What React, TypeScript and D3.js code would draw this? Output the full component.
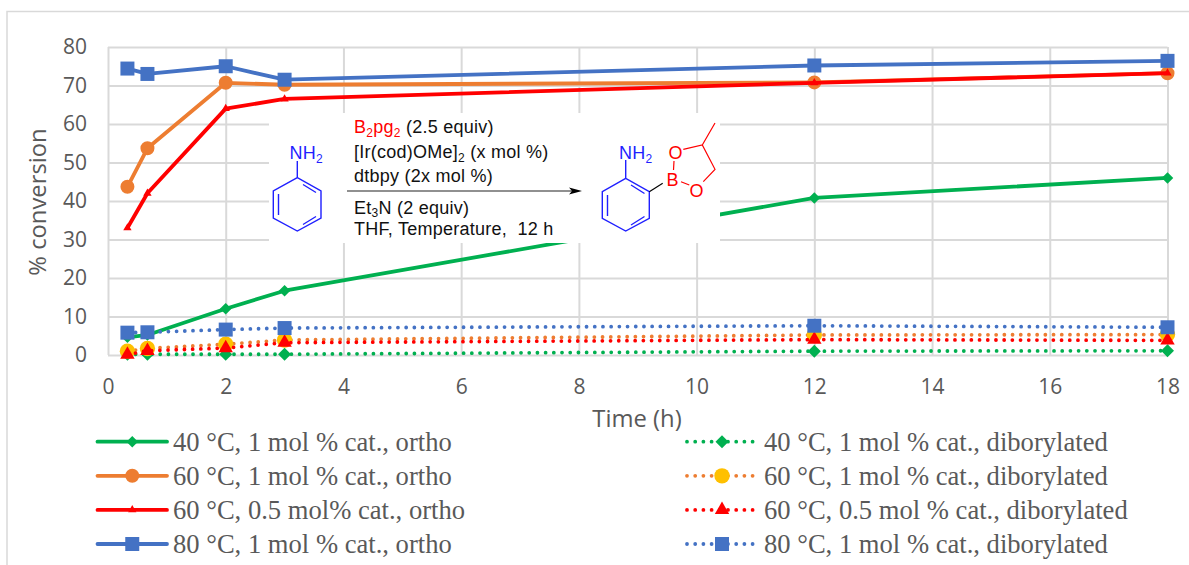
// App.tsx
import React, { useEffect, useRef } from 'react';
import * as d3 from 'd3';

const times = [0.33, 0.67, 2, 3, 12, 18];
const xTicks = [0, 2, 4, 6, 8, 10, 12, 14, 16, 18];
const yTicks = [0, 10, 20, 30, 40, 50, 60, 70, 80];

const ortho40 = [4.6, 5.2, 12, 16.7, 40.8, 46];
const ortho60 = [43.7, 53.7, 70.7, 70.2, 70.8, 73.2];
const ortho60half = [33, 42, 64, 66.5, 70.7, 73.2];
const ortho80 = [74.4, 73, 75, 71.5, 75.2, 76.4];
const dib40 = [0.2, 0.2, 0.2, 0.2, 1, 1.1];
const dib60 = [1, 1.7, 2.8, 3.9, 5.2, 5.3];
const dib60half = [0.1, 1.1, 1.8, 3.2, 4, 3.8];
const dib80 = [5.8, 5.9, 6.6, 7, 7.6, 7.2];

const GREEN = '#00B050';
const ORANGE = '#ED7D31';
const RED = '#FF0000';
const BLUE = '#4472C4';
const GOLD = '#FFC000';

const series = [
  { name: '40 °C, 1 mol % cat., ortho', values: ortho40, line: GREEN, fill: GREEN, symbol: d3.symbolDiamond2, size: 85, dotted: false },
  { name: '60 °C, 1 mol % cat., ortho', values: ortho60, line: ORANGE, fill: ORANGE, symbol: d3.symbolCircle, size: 154, dotted: false },
  { name: '60 °C, 0.5 mol% cat., ortho', values: ortho60half, line: RED, fill: RED, symbol: d3.symbolTriangle, size: 30, dotted: false },
  { name: '80 °C, 1 mol % cat., ortho', values: ortho80, line: BLUE, fill: BLUE, symbol: d3.symbolSquare, size: 196, dotted: false },
  { name: '40 °C, 1 mol % cat., diborylated', values: dib40, line: GREEN, fill: GREEN, symbol: d3.symbolDiamond2, size: 108, dotted: true },
  { name: '60 °C, 1 mol % cat., diborylated', values: dib60, line: ORANGE, fill: GOLD, symbol: d3.symbolCircle, size: 185, dotted: true },
  { name: '60 °C, 0.5 mol % cat., diborylated', values: dib60half, line: RED, fill: RED, symbol: d3.symbolTriangle, size: 90, dotted: true },
  { name: '80 °C, 1 mol % cat., diborylated', values: dib80, line: BLUE, fill: BLUE, symbol: d3.symbolSquare, size: 196, dotted: true },
];

const AXIS_COLOR = '#595959';
const GRID_COLOR = '#D9D9D9';
const AXIS_FONT = '"Open Sans", sans-serif';
const LEGEND_FONT = '"Liberation Serif", serif';
const SCHEME_FONT = '"Liberation Sans", Arial, sans-serif';

// reaction scheme, drawn in page pixels on top of the chart
const CHEM_BLUE = '#1F1FFF';
const anilineBonds = [
  'M297.3 161V177.7L321 191V218L297.3 231L273.3 218V191L297.3 177.7',
  'M303 184.5L316 192.5M278.5 194V215M303 224.5L316 216.5',
];
const productBonds = [
  'M625.7 160V178.3L649.3 191.7V218.3L625.7 231L602.3 218.3V191.7L625.7 178.3',
  'M631 185L644.5 193.5M607.5 195V216M631 225L644.5 216.5',
];
const boronateBonds = 'M674 161L673.5 170M681 181.7L689.3 185M683.3 149.3L702.3 145L715 169.3L703.3 181.7M702.3 145L715 123';

const App = () => {
  const svgRef = useRef<SVGSVGElement>(null);

  useEffect(() => {
    const svg = d3.select(svgRef.current);
    svg.selectAll('*').remove();

    const x = d3.scaleLinear().domain([0, 18]).range([108, 1167.5]);
    const y = d3.scaleLinear().domain([0, 80]).range([355, 47]);

    // chart frame runs off the right and bottom of the picture
    svg.append('rect')
      .attr('x', 7).attr('y', 11.5)
      .attr('width', 1200).attr('height', 600)
      .attr('fill', 'white')
      .attr('stroke', GRID_COLOR).attr('stroke-width', 1.5);

    const styleAxis = (g: any) => {
      g.select('.domain').remove();
      g.selectAll('.tick line').attr('stroke', GRID_COLOR).attr('stroke-width', 2);
      g.selectAll('.tick text')
        .attr('fill', AXIS_COLOR)
        .style('font-family', AXIS_FONT)
        .style('font-size', '21px');
    };

    svg.append('g')
      .attr('transform', 'translate(0,355)')
      .call(d3.axisBottom(x).tickValues(xTicks).tickSize(-308).tickPadding(24).tickFormat(d3.format('d')))
      .call(styleAxis);

    svg.append('g')
      .attr('transform', 'translate(108,0)')
      .call(d3.axisLeft(y).tickValues(yTicks).tickSize(-1059.5).tickPadding(21).tickFormat(d3.format('d')))
      .call(styleAxis);

    svg.append('text')
      .attr('transform', 'translate(46,202) rotate(-90)')
      .attr('text-anchor', 'middle')
      .attr('fill', AXIS_COLOR)
      .style('font-family', AXIS_FONT)
      .style('font-size', '23.8px')
      .text('% conversion');

    svg.append('text')
      .attr('x', 637).attr('y', 427)
      .attr('text-anchor', 'middle')
      .attr('fill', AXIS_COLOR)
      .style('font-family', AXIS_FONT)
      .style('font-size', '23.8px')
      .text('Time (h)');

    const line = d3.line<number>().x((_, i) => x(times[i])).y(d => y(d));

    const styleLine = (sel: any, s: any) => sel
      .attr('fill', 'none')
      .attr('stroke', s.line)
      .attr('stroke-width', 3.8)
      .attr('stroke-linecap', 'round')
      .attr('stroke-linejoin', 'round')
      .attr('stroke-dasharray', s.dotted ? '0 8.2' : null);

    series.forEach(s => {
      svg.append('path').attr('d', line(s.values)).call(styleLine, s);
      svg.selectAll(null)
        .data(s.values)
        .enter()
        .append('path')
        .attr('d', d3.symbol().type(s.symbol).size(s.size))
        .attr('transform', (d, i) => `translate(${x(times[i])},${y(d)})`)
        .attr('fill', s.fill);
    });

    // legend: two columns of four rows
    const rowY = d3.scalePoint<number>().domain([0, 1, 2, 3]).range([441.7, 544]);
    const columns = [{ x0: 97.5, x1: 167, text: 173 }, { x0: 687, x1: 757, text: 764 }];

    series.forEach((s, i) => {
      const col = columns[Math.floor(i / 4)];
      const ly = rowY(i % 4) as number;
      const g = svg.append('g');
      g.append('path').attr('d', `M${col.x0} ${ly}H${col.x1}`).call(styleLine, s);
      g.append('path')
        .attr('d', d3.symbol().type(s.symbol).size(s.size))
        .attr('transform', `translate(${(col.x0 + col.x1) / 2},${ly})`)
        .attr('fill', s.fill);
      g.append('text')
        .attr('x', col.text).attr('y', ly + 9)
        .attr('fill', AXIS_COLOR)
        .style('font-family', LEGEND_FONT)
        .style('font-size', '26.6px')
        .text(s.name);
    });
  }, []);

  const subStyle = { fontSize: 12 };

  return (
    <div style={{ position: 'absolute', left: 0, top: 0, width: 1189, height: 565, overflow: 'hidden' }}>
      <svg ref={svgRef} width={1189} height={565} style={{ position: 'absolute', left: 0, top: 0, display: 'block' }} />
      <svg width={1189} height={565} style={{ position: 'absolute', left: 0, top: 0, display: 'block' }}>
        <rect x={269} y={113} width={451} height={130} fill="white" />
        <g fill="none" stroke={CHEM_BLUE} strokeWidth={1.4}>
          {anilineBonds.map(d => <path key={d} d={d} />)}
          {productBonds.map(d => <path key={d} d={d} />)}
        </g>
        <path d="M649.3 191.7L662.7 183.3" stroke="#000" strokeWidth={1.2} fill="none" />
        <path d={boronateBonds} stroke={RED} strokeWidth={1.2} fill="none" />
        <path d="M347 191H572" stroke="#222" strokeWidth={1.1} />
        <path d="M582 191L569 187.5L572 191L569 194.5Z" fill="#000" />
        <g style={{ fontFamily: SCHEME_FONT, fontSize: 18, letterSpacing: 0.25 }} fill="#111">
          <text x={289.5} y={158.5} fill={CHEM_BLUE}>NH<tspan dy={4} style={subStyle}>2</tspan></text>
          <text x={619} y={158.5} fill={CHEM_BLUE}>NH<tspan dy={4} style={subStyle}>2</tspan></text>
          <text x={666.5} y={186} fill={RED}>B</text>
          <text x={668.5} y={159} fill={RED}>O</text>
          <text x={689.5} y={197} fill={RED}>O</text>
          <text x={354} y={133}>
            <tspan fill={RED}>B</tspan>
            <tspan fill={RED} dy={4} style={subStyle}>2</tspan>
            <tspan fill={RED} dy={-4}>pg</tspan>
            <tspan fill={RED} dy={4} style={subStyle}>2</tspan>
            <tspan dy={-4}> (2.5 equiv)</tspan>
          </text>
          <text x={354} y={158}>
            [Ir(cod)OMe]<tspan dy={4} style={subStyle}>2</tspan><tspan dy={-4}> (x mol %)</tspan>
          </text>
          <text x={354} y={182}>dtbpy (2x mol %)</text>
          <text x={354} y={214}>
            Et<tspan dy={3} style={subStyle}>3</tspan><tspan dy={-3}>N (2 equiv)</tspan>
          </text>
          <text x={354} y={235} xmlSpace="preserve">THF, Temperature,  12 h</text>
        </g>
      </svg>
    </div>
  );
};

export default App;
